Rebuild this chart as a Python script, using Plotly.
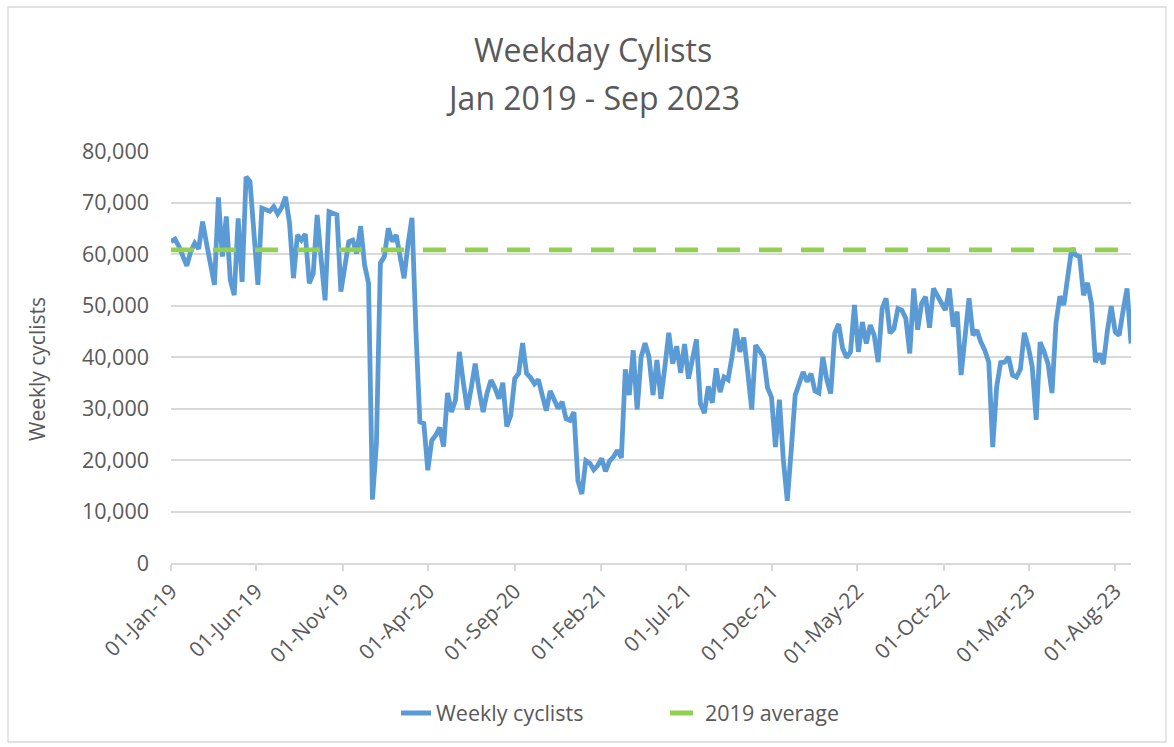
import datetime as dt
import plotly.graph_objects as go

start_date = dt.date(2019, 1, 1)

weekly_cyclists = [
    62400, 62900, 61500, 59500, 57700, 60500, 62100, 61000, 66300, 62000,
    58000, 54000, 71000, 59500, 67300, 55000, 52000, 66900, 54600, 75000,
    74100, 64000, 54000, 68900, 68600, 68300, 69200, 67800, 69000, 71100,
    66000, 55300, 63700, 62700, 63900, 54300, 56200, 67600, 59000, 51000,
    68200, 67800, 67600, 52700, 58000, 62400, 62700, 60100, 65400, 57900,
    54300, 12300, 23200, 58200, 59500, 65000, 62400, 63700, 59500, 55300,
    62000, 67000, 45000, 27400, 27100, 18000, 23800, 24800, 26300, 22600,
    33000, 29300, 31600, 41000, 35000, 29800, 34000, 38700, 33500, 29300,
    33000, 35500, 34000, 31900, 35000, 26500, 28700, 35800, 36800, 42700,
    36800, 36000, 34800, 35600, 32500, 29600, 33400, 31900, 30000, 31300,
    28000, 27700, 29300, 16000, 13400, 19900, 19400, 18100, 18900, 20300,
    17800, 19800, 20600, 21900, 20400, 37600, 32600, 41300, 29800, 40000,
    42700, 40000, 32600, 39400, 31900, 38000, 44700, 38700, 42100, 36900,
    42500, 35800, 40000, 43400, 31000, 29100, 34300, 31100, 37800, 33200,
    36100, 35600, 40000, 45500, 41000, 43800, 37000, 29800, 42300, 41000,
    40000, 34000, 32200, 22500, 31700, 20000, 12100, 22000, 32600, 34800,
    37100, 35200, 36800, 33400, 33000, 40000, 35600, 32900, 44600, 46400,
    41700, 39900, 41000, 50100, 41000, 46800, 42600, 46200, 44200, 39000,
    49400, 51400, 44600, 45500, 49400, 49100, 47500, 40700, 53300, 45300,
    50400, 51700, 45700, 53300, 52000, 50500, 49100, 53300, 45900, 48800,
    36500, 44000, 51400, 44200, 45200, 42900, 41300, 39000, 22500, 34200,
    38900, 39000, 40000, 36500, 36100, 37600, 44700, 42000, 38100, 27800,
    42900, 41000, 38700, 33000, 46500, 51800, 50100, 55600, 61100, 59800,
    59500, 52000, 54400, 50400, 39000, 40700, 38600, 45000, 49900, 44900,
    44200, 49000, 53300, 42600,
]
average_2019 = 60800

week_dates = [start_date + dt.timedelta(days=7 * i) for i in range(len(weekly_cyclists))]
average_line = [average_2019] * len(week_dates)

title_line1 = "Weekday Cylists"
title_line2 = "Jan 2019 - Sep 2023"
y_title = "Weekly cyclists"
series_names = ["Weekly cyclists", "2019 average"]

FONT = "Open Sans"
TXT = "#595959"
GRID = "#D9D9D9"

fig = go.Figure()
fig.add_trace(go.Scatter(
    x=week_dates, y=weekly_cyclists, mode="lines", name=series_names[0],
    line=dict(color="#5B9BD5", width=4.8, shape="linear"),
))
fig.add_trace(go.Scatter(
    x=week_dates, y=average_line, mode="lines", name=series_names[1],
    line=dict(color="#92D050", width=4.8, dash="23px,19px"),
))

W, H = 1174, 747
L, R, T, B = 171, 43, 151, 184
pw, ph = W - L - R, H - T - B

def px(xp):
    return (xp - L) / pw

def py(yp):
    return (H - B - yp) / ph

fig.update_layout(
    width=W, height=H,
    margin=dict(l=L, r=R, t=T, b=B, autoexpand=False),
    paper_bgcolor="white", plot_bgcolor="white",
    font=dict(family=FONT, color=TXT),
    title=dict(text=title_line1, x=px(593), xref="paper", xanchor="center",
               y=1 - 51 / H, yref="container", yanchor="middle",
               font=dict(size=32, color=TXT, family=FONT)),
    annotations=[
        dict(text=title_line2, x=px(593), xref="paper", xanchor="center",
             y=py(97), yref="paper", yanchor="middle", showarrow=False,
             font=dict(size=32, color=TXT, family=FONT)),
        dict(text=y_title, x=px(37), xref="paper", xanchor="center",
             y=py(369), yref="paper", yanchor="middle", showarrow=False,
             textangle=-90, font=dict(size=21, color=TXT, family=FONT)),
    ],
    showlegend=True,
    legend=dict(orientation="h", x=px(396), xanchor="left", y=py(713), yanchor="middle",
                xref="paper", yref="paper", entrywidth=224, entrywidthmode="pixels",
                font=dict(size=21.5, color=TXT)),
    shapes=[dict(type="rect", xref="paper", yref="paper",
                 x0=px(8), x1=px(1166), y0=py(742), y1=py(7),
                 line=dict(color="#D9D9D9", width=1.3), fillcolor="rgba(0,0,0,0)",
                 layer="below")],
)
fig.update_xaxes(
    type="date", range=[week_dates[0], week_dates[-1]],
    tick0="2019-01-01", dtick="M5", tickformat="%d-%b-%y", tickangle=-45,
    showgrid=False, showline=True, linecolor=GRID, linewidth=1.5,
    ticks="outside", ticklen=6, tickcolor=GRID, tickwidth=1.5,
    tickfont=dict(size=21, color=TXT, family=FONT), zeroline=False,
)
fig.update_yaxes(
    range=[0, 80000], dtick=10000, tickformat=",",
    showgrid=True, gridcolor=GRID, gridwidth=1.5, zeroline=False,
    showline=False, ticks="", ticklabelstandoff=21,
    tickfont=dict(size=21.5, color=TXT, family=FONT),
)

fig.write_html("out.html", config={"displayModeBar": False},
               post_script="document.body.style.margin='0px';")
